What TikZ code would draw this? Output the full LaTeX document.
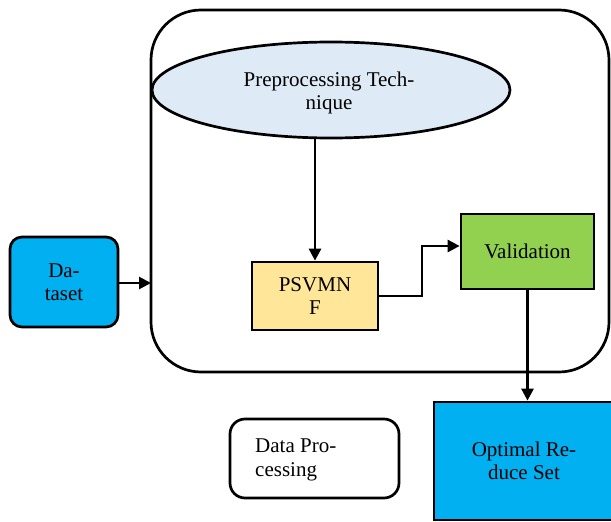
\documentclass[tikz,border=0pt]{standalone}
\usepackage{fontspec}
\setmainfont{Liberation Serif}
\usetikzlibrary{arrows.meta,shapes.geometric}
\definecolor{cyanbox}{HTML}{00B0F0}
\definecolor{ellblue}{HTML}{DEEBF7}
\definecolor{psvyellow}{HTML}{FFE699}
\definecolor{valgreen}{HTML}{92D050}
\tikzset{
  box/.style={draw=black, line width=2.7pt, inner sep=0pt, font=\fontsize{21}{23.5}\selectfont, align=center},
  arr/.style={line width=2.7pt, -{Triangle[length=12pt,width=12pt]}},
  txt/.style={font=\fontsize{21}{23.5}\selectfont, inner sep=0pt}
}
\begin{document}
\begin{tikzpicture}[x=1pt,y=-1pt]
\useasboundingbox (0,0) rectangle (611,522);
% big rounded container
\draw[line width=2.7pt, rounded corners=50pt] (151,10) rectangle (609,372);
% ellipse
\node[box, ellipse, fill=ellblue, minimum width=358pt, minimum height=96pt] (ell) at (331,90) {};
\node[txt, align=center] (elltext) at (329,93) {Preprocessing Tech-\\nique};
% dataset
\node[box, fill=cyanbox, rounded corners=12pt, minimum width=108pt, minimum height=90pt] (data) at (64,282) {Da-\\taset};
% PSVMNF
\node[box, fill=psvyellow, minimum width=126pt, minimum height=68pt] (psv) at (315,296) {PSVMN\\F};
% Validation
\node[box, fill=valgreen, minimum width=133pt, minimum height=75pt] (val) at (527.5,251.5) {Validation};
% Optimal
\node[box, fill=cyanbox, minimum width=180pt, minimum height=118pt] (opt) at (524,461) {Optimal Re-\\duce Set};
% Data Processing
\node[box, fill=white, rounded corners=15pt, minimum width=169pt, minimum height=79pt] (dp) at (314.5,458.5) {};
\node[txt, align=left, anchor=west] (dptext) at (255,460) {Data Pro-\\cessing};
% connectors
\coordinate (cin) at (151,283);
\draw[arr] (data.east |- cin) -- (cin);
\draw[arr] (ell.south -| psv.north) -- (psv.north);
\draw[arr] (psv.east) -| (422,246) -- (val.west |- 0,246);
\draw[arr] (val.south) -- (val.south |- opt.north);
\end{tikzpicture}
\end{document}
